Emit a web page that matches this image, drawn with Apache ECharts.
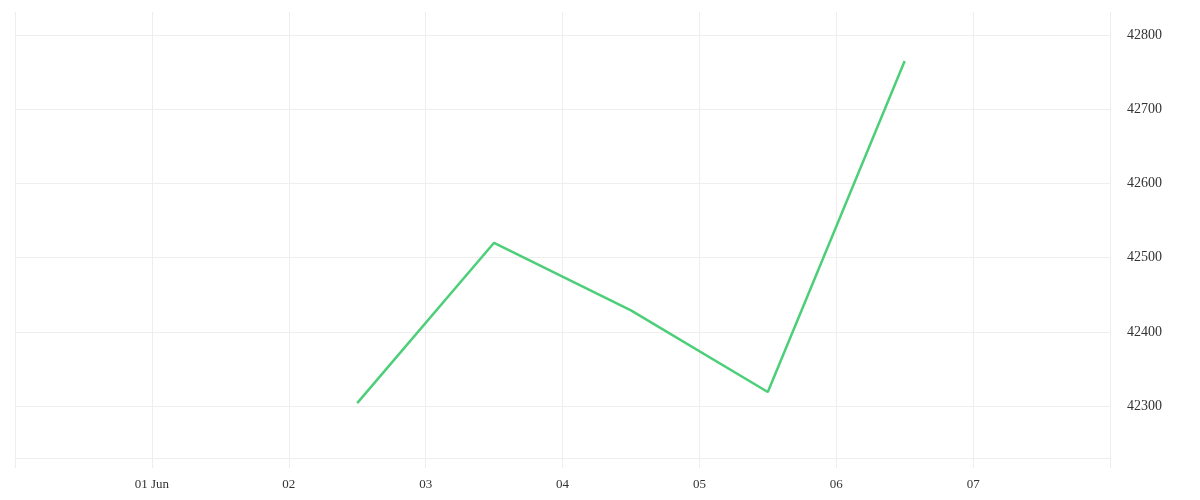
<!DOCTYPE html>
<html>
<head>
<meta charset="utf-8">
<script src="https://cdn.jsdelivr.net/npm/echarts@6/dist/echarts.min.js"></script>
<style>html,body{margin:0;padding:0;background:#fff;}#c{width:1200px;height:500px;}</style>
</head>
<body>
<div id="c"></div>
<script>
// Data
const times = ['2024-06-02T12:00:00', '2024-06-03T12:00:00', '2024-06-04T12:00:00', '2024-06-05T12:00:00', '2024-06-06T12:00:00'];
const values = [42304, 42520, 42429, 42319, 42765];
const xRange = ['2024-05-31T00:00:00', '2024-06-08T00:00:00'];
const yRange = [42230, 42831];
const monthLabel = 'Jun';

const chart = echarts.init(document.getElementById('c'));
const font = 'Liberation Serif';
const xMin = new Date(xRange[0]).getTime();
const xMax = new Date(xRange[1]).getTime();
chart.setOption({
  animation: false,
  grid: { left: 15, right: 90, top: 12, bottom: 42 },
  xAxis: {
    type: 'time',
    min: xMin,
    max: xMax,
    minInterval: 86400000,
    maxInterval: 86400000,
    splitNumber: 8,
    axisLine: { show: true, lineStyle: { color: '#eeeeee', width: 1 } },
    axisTick: { show: true, length: 10, lineStyle: { color: '#eeeeee' } },
    splitLine: { show: true, lineStyle: { color: '#eeeeee', width: 1 } },
    axisLabel: {
      color: '#333', fontFamily: font, fontSize: 13, margin: 20,
      formatter: function (v) {
        if (v <= xMin || v >= xMax) return '';
        const d = new Date(v);
        const dd = String(d.getDate()).padStart(2, '0');
        return d.getDate() === 1 ? dd + ' ' + monthLabel : dd;
      }
    }
  },
  yAxis: {
    type: 'value',
    position: 'right',
    min: yRange[0],
    max: yRange[1],
    splitNumber: 5,
    axisLine: { show: false },
    axisTick: { show: false },
    splitLine: { show: true, showMaxLine: false, lineStyle: { color: '#eeeeee', width: 1 } },
    axisLabel: {
      color: '#333', fontFamily: font, fontSize: 14, margin: 17,
      formatter: function (v) {
        if (v % 100 !== 0) return '';
        return String(v);
      }
    }
  },
  series: [{
    type: 'line',
    data: times.map((t, i) => [new Date(t).getTime(), values[i]]),
    showSymbol: false,
    lineStyle: { color: '#4ccf78', width: 2.5 },
    itemStyle: { color: '#4ccf78' }
  }]
});
</script>
</body>
</html>
